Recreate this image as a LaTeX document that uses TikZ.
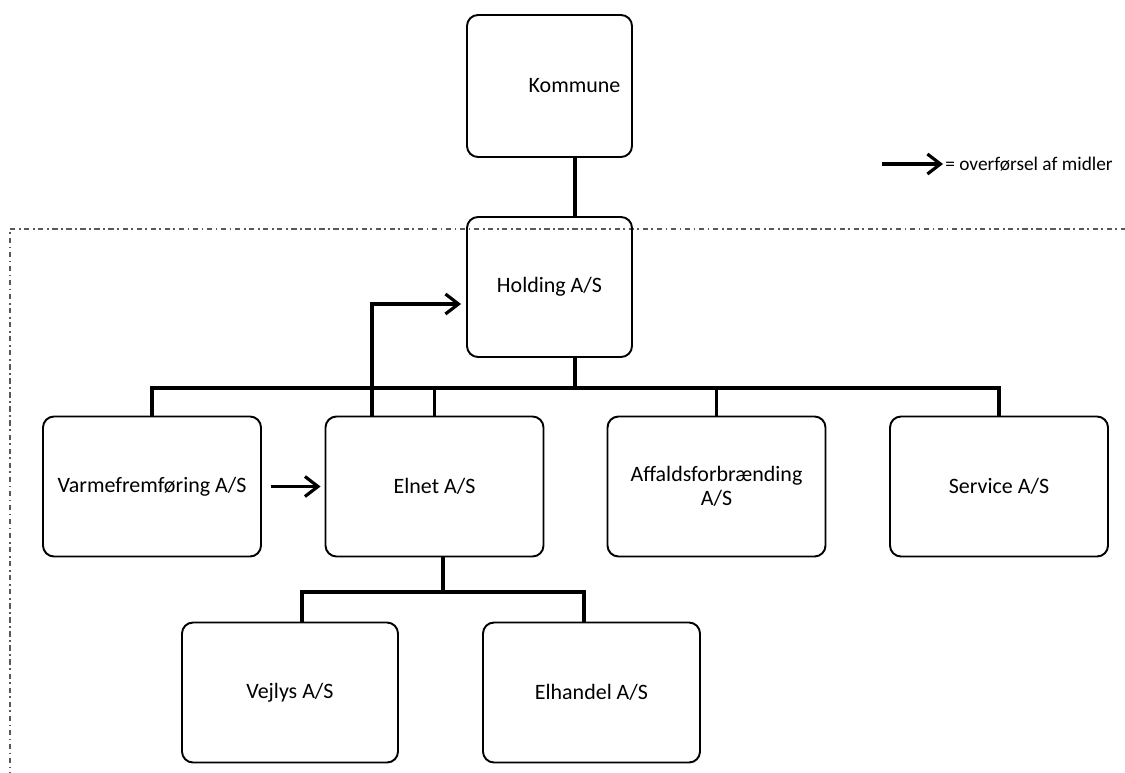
\documentclass[tikz,border=0pt]{standalone}
\usepackage{fontspec}
\setmainfont{Carlito}
\usetikzlibrary{arrows.meta}

\begin{document}
\begin{tikzpicture}[
	firm/.style={draw, line width=1.1pt, rounded corners=0.22cm, minimum width=4.36cm, minimum height=2.8cm, align=center, font=\fontsize{12.5}{14}\selectfont},
	owner/.style={line width=1.8pt},
	funds/.style={line width=1.8pt, -{Straight Barb[length=2.6mm, width=4mm, line width=1.8pt]}}
]
	\useasboundingbox (0,0) rectangle (22.5,-15.44);

	% Draw group border
	\draw[line width=0.6pt, gray!70!black, dash pattern=on 3pt off 2pt on 1pt off 2pt] (22.8,-4.58) -- (0.2,-4.58) -- (0.2,-15.8);

	% Owners
	\node[firm, minimum width=3.3cm, minimum height=2.84cm] (kommune) at (10.99,-1.72) {\hspace{1cm}Kommune};
	\node[firm, minimum width=3.3cm] (holding) at (10.99,-5.74) {Holding A/S};

	% Subsidiaries
	\node[firm] (varme) at (3.04,-9.73) {Varmefremføring A/S};
	\node[firm] (elnet) at (8.69,-9.73) {Elnet A/S};
	\node[firm] (affald) at (14.33,-9.73) {Affaldsforbrænding\\A/S};
	\node[firm] (service) at (19.98,-9.73) {Service A/S};
	\node[firm, minimum width=4.32cm] (vejlys) at (5.8,-13.85) {Vejlys A/S};
	\node[firm, minimum width=4.34cm] (elhandel) at (11.83,-13.85) {Elhandel A/S};

	% Ownership lines
	\draw[owner] ([xshift=0.51cm]kommune.south) -- ([xshift=0.51cm]holding.north);
	\draw[owner] ([xshift=0.51cm]holding.south) -- ++(0,-0.6) coordinate (bus);
	\draw[owner] (varme.north) |- (bus) -| (service.north);
	\draw[owner] (elnet.north) -- (elnet.north |- bus);
	\draw[owner] (affald.north) -- (affald.north |- bus);
	\draw[owner] ([xshift=0.17cm]elnet.south) -- ++(0,-0.69) coordinate (subbus);
	\draw[owner] ([xshift=0.24cm]vejlys.north) |- (subbus) -| ([xshift=-0.15cm]elhandel.north);

	% Transfer of funds
	\draw[funds, shorten <=0.18cm, shorten >=0.08cm] (varme) -- (elnet);
	\draw[funds, shorten >=0.1cm] ([xshift=-1.25cm]elnet.north) |- ([yshift=-0.34cm]holding.west);

	% Legend
	\coordinate (legstart) at (17.64,-3.28);
	\coordinate (legend) at (18.86,-3.28);
	\draw[funds] (legstart) -- (legend);
	\node[anchor=west, inner sep=0pt, font=\fontsize{11}{13}\selectfont] (legtext) at (18.9,-3.28) {= overførsel af midler};
\end{tikzpicture}
\end{document}
